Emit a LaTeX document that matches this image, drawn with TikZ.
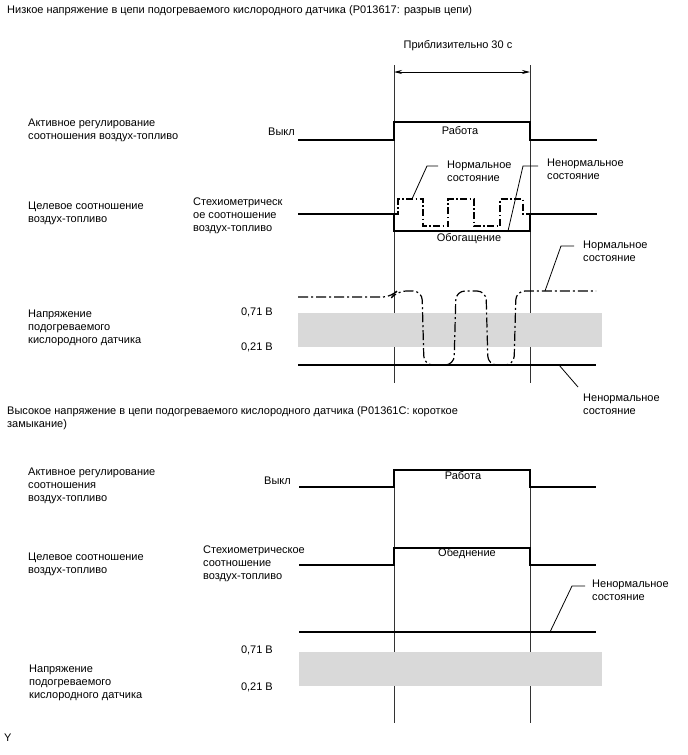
\documentclass[tikz,border=0pt]{standalone}
\usepackage{fontspec}
\setmainfont{Liberation Sans}
\usetikzlibrary{arrows.meta}
\definecolor{band}{RGB}{217,217,217}
\tikzset{
  lbl/.style={font=\fontsize{11}{13}\selectfont, inner sep=0pt, align=left, anchor=west},
  lblc/.style={font=\fontsize{11}{13}\selectfont, inner sep=0pt, align=center, anchor=center},
  lble/.style={font=\fontsize{11}{13}\selectfont, inner sep=0pt, anchor=east},
  sig/.style={line width=1.4pt},
  guide/.style={line width=0.7pt, black!80},
  leader/.style={line width=0.8pt},
  dd/.style={line width=1.2pt, dash pattern=on 10pt off 3pt on 2pt off 3pt},
  ddsq/.style={line width=1.1pt, dash pattern=on 7pt off 2.5pt on 1.5pt off 2.5pt},
}
\begin{document}
\begin{tikzpicture}[x=1pt,y=-1pt]
\useasboundingbox (0,0) rectangle (688,755);
% ---------- top section ----------
\node[lbl] (t1) at (7,11) {Низкое напряжение в цепи подогреваемого кислородного датчика (P013617: разрыв цепи)};
\node[lblc] (approx) at (458,46) {Приблизительно 30 с};
\coordinate (vL1) at (394,65); \coordinate (vL1b) at (394,383);
\coordinate (vR1) at (530,65); \coordinate (vR1b) at (530,383);
\draw[guide] (vL1) -- (vL1b);
\draw[guide] (vR1) -- (vR1b);
\coordinate (aL) at (394,72); \coordinate (aR) at (530,72);
\draw[line width=0.8pt, {Stealth[length=8pt,width=4pt]}-{Stealth[length=8pt,width=4pt]}] (aL) -- (aR);

% row 1
\node[lbl] (a1) at (28,130.5) {Активное регулирование\\соотношения воздух-топливо};
\node[lble] (off1) at (295,132) {Выкл};
\node[lblc] (work1) at (460,131) {Работа};
\draw[sig] (298,140) -- (394,140) -- (394,122) -- (530,122) -- (530,140) -- (597,140);

% row 2
\node[lbl] (c1) at (28,213) {Целевое соотношение\\воздух-топливо};
\node[lbl] (st1) at (193,216) {Стехиометрическ\\ое соотношение\\воздух-топливо};
\draw[sig] (298,214) -- (394,214) -- (394,231) -- (530,231) -- (530,214) -- (597,214);
\draw[ddsq] (394,214) -- (398,214) -- (398,199) -- (423,199) -- (423,226) -- (448,226) -- (448,199) -- (474,199) -- (474,226) -- (500,226) -- (500,199) -- (523,199) -- (523,214) -- (530,214);
\node[lbl] (n1) at (447,171) {Нормальное\\состояние};
\node[lbl] (ab1) at (547,169) {Ненормальное\\состояние};
\node[lblc] (rich) at (469,239) {Обогащение};
\coordinate (n1a) at (412,199); \coordinate (n1b) at (427,166); \coordinate (n1c) at (438,166);
\draw[leader] (n1a) -- (n1b) -- (n1c);
\coordinate (ab1a) at (508,231); \coordinate (ab1b) at (523,166); \coordinate (ab1c) at (538,166);
\draw[leader] (ab1a) -- (ab1b) -- (ab1c);

% row 3
\fill[band] (298,313) rectangle (602,347);
\node[lbl] (v1) at (28,328) {Напряжение\\подогреваемого\\кислородного датчика};
\node[lble] (h71a) at (273,312) {0,71 В};
\node[lble] (h21a) at (273,347) {0,21 В};
\draw[sig] (298,365) -- (596,365);
\draw[dd, rounded corners=9pt] (298,297) -- (392,297) -- (397,291) -- (422,291) -- (424,365) -- (454,365) -- (456,291) -- (486,291) -- (488,365) -- (514,365) -- (516,291) -- (596,291);
\node[lbl] (n2) at (583,251) {Нормальное\\состояние};
\node[lbl] (ab2) at (583,404) {Ненормальное\\состояние};
\coordinate (n2a) at (545,291); \coordinate (n2b) at (561,246); \coordinate (n2c) at (574,246);
\draw[leader] (n2a) -- (n2b) -- (n2c);
\coordinate (ab2a) at (559,365); \coordinate (ab2b) at (578,387);
\draw[leader] (ab2a) -- (ab2b);

% ---------- bottom section ----------
\node[lbl] (t2) at (7,418) {Высокое напряжение в цепи подогреваемого кислородного датчика (P01361C: короткое\\замыкание)};
\coordinate (vL2) at (394,470); \coordinate (vL2b) at (394,723);
\coordinate (vR2) at (530,470); \coordinate (vR2b) at (530,723);
\draw[guide] (vL2) -- (vL2b);
\draw[guide] (vR2) -- (vR2b);

\node[lbl] (a2) at (28,485.5) {Активное регулирование\\соотношения\\воздух-топливо};
\node[lble] (off2) at (291,481) {Выкл};
\node[lblc] (work2) at (463,476) {Работа};
\draw[sig] (299,487) -- (394,487) -- (394,470) -- (530,470) -- (530,487) -- (596,487);

\node[lbl] (c2) at (28,564) {Целевое соотношение\\воздух-топливо};
\node[lbl] (st2) at (203,564) {Стехиометрическое\\соотношение\\воздух-топливо};
\node[lblc] (lean) at (467,554) {Обеднение};
\draw[sig] (299,565) -- (394,565) -- (394,548) -- (530,548) -- (530,565) -- (596,565);

\fill[band] (299,652) rectangle (602,686);
\draw[sig] (299,632) -- (596,632);
\node[lble] (h71b) at (273,650) {0,71 В};
\node[lble] (h21b) at (273,687) {0,21 В};
\node[lbl] (v2) at (29,683) {Напряжение\\подогреваемого\\кислородного датчика};
\node[lbl] (ab3) at (592,590) {Ненормальное\\состояние};
\coordinate (ab3a) at (550,632); \coordinate (ab3b) at (572,586); \coordinate (ab3c) at (585,586);
\draw[leader] (ab3a) -- (ab3b) -- (ab3c);

\node[lbl] (y) at (4,738) {Y};
\end{tikzpicture}
\end{document}
